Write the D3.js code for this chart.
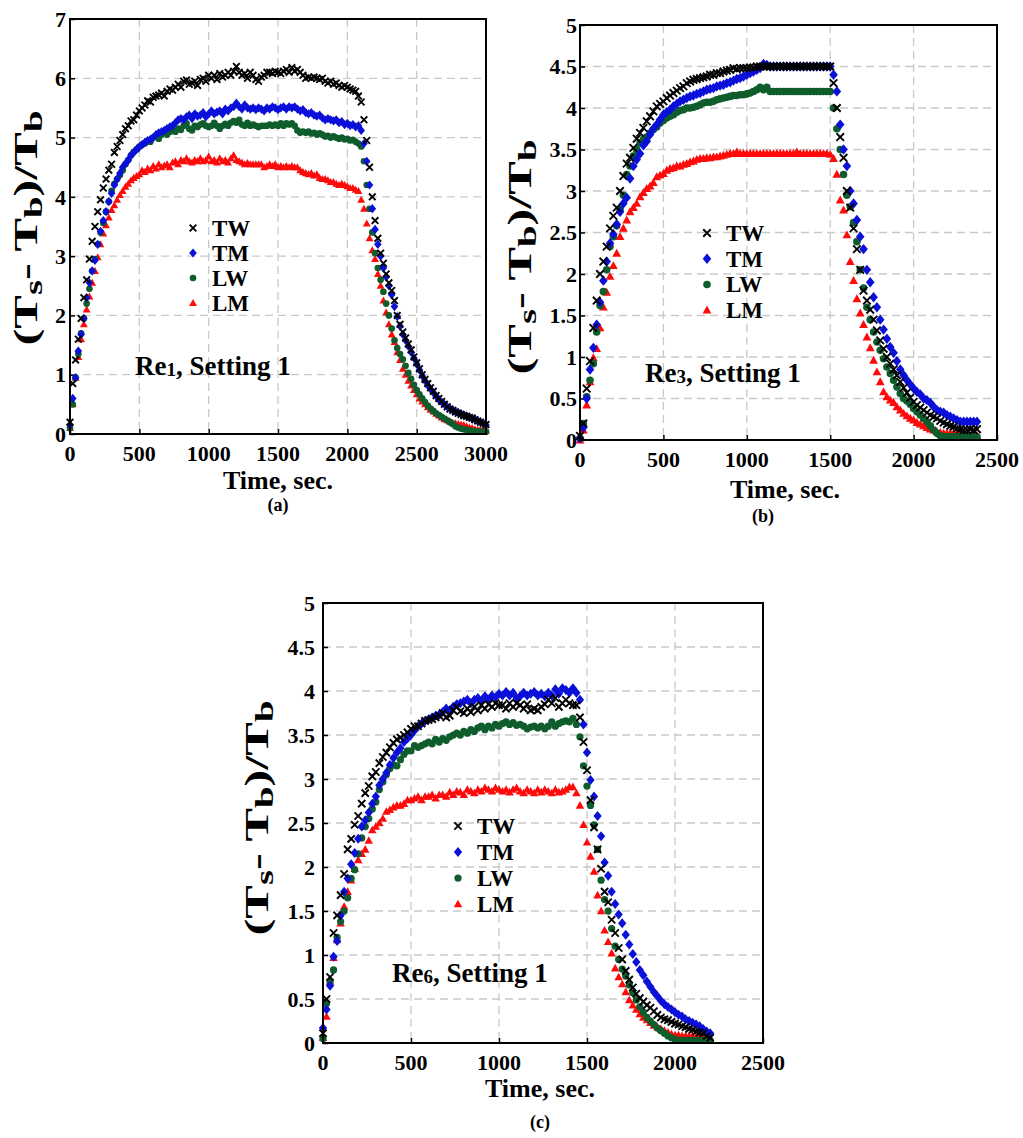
<!DOCTYPE html>
<html>
<head>
<meta charset="utf-8">
<script src="https://cdn.jsdelivr.net/npm/d3@7"></script>
<style>
  body { margin: 0; background: #fff; }
  svg text { font-family: "Liberation Serif", "Times New Roman", serif; font-weight: bold; fill: #000; }
</style>
</head>
<body>
<div id="fig"></div>
<script>
// sampling interval of the logged data, seconds
var step = 20;

// series names, drawn in this order (TW ends up on top)
var seriesNames = ["LM", "LW", "TM", "TW"];
var legendNames = ["TW", "TM", "LW", "LM"];

// x tick labels
var xTicksA = [0, 500, 1000, 1500, 2000, 2500, 3000];
var xTicksBC = [0, 500, 1000, 1500, 2000, 2500];
// y tick labels
var yTicksA = [0, 1, 2, 3, 4, 5, 6, 7];
var yTicksBC = [0, 0.5, 1, 1.5, 2, 2.5, 3, 3.5, 4, 4.5, 5];

// ---- panel (a): Re1, t = 0..3000 s ----
var twA = [0.2, 0.85, 1.25, 1.6, 1.95, 2.3, 2.6, 2.95, 3.25, 3.5,
  3.75, 3.95, 4.15, 4.3, 4.45, 4.55, 4.75, 4.85, 4.95, 5.05,
  5.15, 5.2, 5.28, 5.3, 5.38, 5.45, 5.5, 5.55, 5.62, 5.6,
  5.68, 5.7, 5.72, 5.75, 5.7, 5.78, 5.82, 5.8, 5.85, 5.9,
  5.85, 5.95, 5.97, 5.9, 5.92, 5.95, 5.88, 5.98, 6.0, 5.95,
  6.05, 6.0, 6.05, 5.98, 6.08, 6.02, 6.05, 6.1, 6.05, 6.12,
  6.2, 6.1, 6.05, 6.08, 6.0, 6.1, 6.05, 5.98, 5.95, 6.02,
  6.05, 6.1, 6.1, 6.08, 6.12, 6.1, 6.08, 6.12, 6.15, 6.1,
  6.18, 6.12, 6.15, 6.1, 6.05, 6.0, 6.02, 6.0, 6.02, 6.0,
  5.98, 6.0, 5.95, 5.92, 5.95, 5.9, 5.92, 5.88, 5.85, 5.88,
  5.85, 5.82, 5.8, 5.78, 5.7, 5.6, 5.3, 4.95, 4.5, 4.0,
  3.6, 3.3, 3.05, 2.88, 2.7, 2.55, 2.42, 2.25, 2.0, 1.85,
  1.72, 1.62, 1.52, 1.42, 1.3, 1.2, 1.1, 1.0, 0.92, 0.85,
  0.78, 0.72, 0.65, 0.6, 0.55, 0.5, 0.46, 0.42, 0.4, 0.37,
  0.35, 0.33, 0.31, 0.3, 0.28, 0.27, 0.24, 0.22, 0.2, 0.18,
  0.16];
var tmA = [0.15, 0.6, 0.95, 1.4, 1.68, 1.95, 2.3, 2.55, 2.75, 2.93,
  3.2, 3.42, 3.6, 3.75, 3.92, 4.06, 4.2, 4.3, 4.4, 4.5,
  4.56, 4.62, 4.7, 4.75, 4.8, 4.84, 4.88, 4.92, 4.95, 4.97,
  5.0, 5.05, 5.08, 5.1, 5.12, 5.15, 5.18, 5.2, 5.25, 5.3,
  5.32, 5.3, 5.35, 5.38, 5.32, 5.4, 5.36, 5.38, 5.42, 5.35,
  5.4, 5.45, 5.4, 5.43, 5.45, 5.4, 5.48, 5.45, 5.5, 5.52,
  5.58, 5.52, 5.48, 5.55, 5.5, 5.48, 5.5, 5.47, 5.5, 5.48,
  5.45, 5.5, 5.48, 5.52, 5.5, 5.47, 5.5, 5.52, 5.48, 5.52,
  5.5, 5.52, 5.48, 5.45, 5.47, 5.42, 5.4, 5.42, 5.38, 5.36,
  5.38, 5.33, 5.3, 5.32, 5.3, 5.28, 5.3, 5.25, 5.27, 5.22,
  5.24, 5.2, 5.22, 5.18, 5.2, 5.12, 4.9, 4.6, 4.2, 3.8,
  3.45, 3.2, 3.0, 2.8, 2.65, 2.5, 2.35, 2.15, 1.98, 1.82,
  1.68, 1.58, 1.48, 1.38, 1.28, 1.18, 1.08, 0.98, 0.9, 0.82,
  0.76, 0.7, 0.64, 0.58, 0.54, 0.5, 0.46, 0.43, 0.4, 0.38,
  0.36, 0.34, 0.32, 0.3, 0.28, 0.26, 0.25, 0.22, 0.2, 0.18,
  0.15];
var lwA = [0.1, 0.5, 0.95, 1.35, 1.7, 1.95, 2.2, 2.45, 2.75, 2.95,
  3.2, 3.4, 3.56, 3.75, 3.92, 4.1, 4.22, 4.3, 4.37, 4.45,
  4.55, 4.62, 4.7, 4.76, 4.8, 4.85, 4.88, 4.9, 4.95, 4.93,
  5.0, 5.02, 4.98, 5.05, 5.08, 5.05, 5.1, 5.12, 5.1, 5.15,
  5.13, 5.2, 5.24, 5.15, 5.12, 5.2, 5.18, 5.22, 5.24, 5.2,
  5.18, 5.2, 5.25, 5.2, 5.15, 5.2, 5.23, 5.2, 5.25, 5.28,
  5.25, 5.3, 5.22, 5.2, 5.25, 5.2, 5.22, 5.2, 5.18, 5.2,
  5.2, 5.2, 5.22, 5.2, 5.22, 5.2, 5.24, 5.2, 5.24, 5.22,
  5.24, 5.2, 5.12, 5.08, 5.1, 5.08, 5.1, 5.07, 5.08, 5.05,
  5.07, 5.05, 5.02, 5.03, 5.0, 5.02, 5.0, 4.98, 5.0, 4.97,
  4.98, 4.95, 4.96, 4.93, 4.9, 4.85, 4.6, 4.2, 3.8, 3.4,
  3.05, 2.8, 2.6, 2.4, 2.2, 2.0, 1.78, 1.58, 1.45, 1.35,
  1.26, 1.15, 1.03, 0.93, 0.83, 0.74, 0.67, 0.6, 0.54, 0.48,
  0.43, 0.39, 0.35, 0.32, 0.29, 0.26, 0.23, 0.2, 0.17, 0.13,
  0.11, 0.09, 0.08, 0.07, 0.06, 0.05, 0.05, 0.04, 0.04, 0.04,
  0.04];
var lmA = [0.1, 0.5, 0.95, 1.3, 1.6, 1.85, 2.1, 2.32, 2.55, 2.75,
  2.98, 3.2, 3.38, 3.52, 3.65, 3.78, 3.86, 3.95, 4.03, 4.1,
  4.17, 4.22, 4.28, 4.32, 4.35, 4.38, 4.45, 4.42, 4.48, 4.45,
  4.52, 4.48, 4.55, 4.5, 4.53, 4.55, 4.5, 4.58, 4.6, 4.55,
  4.62, 4.6, 4.65, 4.6, 4.58, 4.62, 4.6, 4.65, 4.6, 4.62,
  4.68, 4.6, 4.62, 4.58, 4.65, 4.6, 4.62, 4.58, 4.65, 4.7,
  4.62, 4.6, 4.58, 4.55, 4.57, 4.55, 4.55, 4.55, 4.55, 4.55,
  4.5, 4.52, 4.55, 4.52, 4.55, 4.5, 4.52, 4.5, 4.52, 4.5,
  4.52, 4.5, 4.5, 4.45, 4.42, 4.4, 4.38, 4.4, 4.36, 4.38,
  4.32, 4.3, 4.3, 4.28, 4.25, 4.25, 4.22, 4.2, 4.22, 4.2,
  4.18, 4.15, 4.15, 4.12, 4.1, 3.95, 3.8, 3.55, 3.3, 3.1,
  2.95, 2.7, 2.5, 2.25, 2.05, 1.85, 1.68, 1.55, 1.38, 1.25,
  1.1, 1.0, 0.9, 0.82, 0.74, 0.67, 0.6, 0.55, 0.5, 0.45,
  0.41, 0.38, 0.34, 0.31, 0.28, 0.25, 0.23, 0.21, 0.19, 0.18,
  0.17, 0.16, 0.15, 0.13, 0.11, 0.1, 0.08, 0.07, 0.07, 0.06,
  0.06];

// ---- panel (b): Re3, t = 0..2380 s ----
var twB = [0.05, 0.2, 0.62, 0.95, 1.35, 1.68, 2.0, 2.15, 2.33, 2.55,
  2.7, 2.8, 3.0, 3.18, 3.33, 3.4, 3.52, 3.63, 3.7, 3.76,
  3.84, 3.9, 3.96, 4.02, 4.05, 4.08, 4.12, 4.15, 4.18, 4.21,
  4.24, 4.26, 4.3, 4.32, 4.34, 4.35, 4.36, 4.37, 4.38, 4.4,
  4.4, 4.42, 4.42, 4.44, 4.45, 4.46, 4.48, 4.47, 4.48, 4.48,
  4.48, 4.49, 4.49, 4.5, 4.5, 4.5, 4.5, 4.5, 4.5, 4.5,
  4.5, 4.5, 4.5, 4.5, 4.5, 4.5, 4.5, 4.5, 4.5, 4.5,
  4.5, 4.5, 4.5, 4.5, 4.5, 4.5, 4.3, 4.0, 3.65, 3.4,
  3.0, 2.8, 2.55, 2.3, 2.05, 1.8, 1.68, 1.57, 1.45, 1.32,
  1.2, 1.1, 1.0, 0.92, 0.85, 0.78, 0.7, 0.63, 0.57, 0.51,
  0.46, 0.42, 0.39, 0.36, 0.33, 0.3, 0.28, 0.26, 0.23, 0.21,
  0.19, 0.17, 0.16, 0.14, 0.13, 0.12, 0.12, 0.13, 0.12, 0.13];
var tmB = [0.02, 0.15, 0.5, 0.85, 1.11, 1.39, 1.66, 1.92, 2.15, 2.37,
  2.48, 2.6, 2.75, 2.85, 2.92, 3.15, 3.3, 3.38, 3.45, 3.55,
  3.6, 3.68, 3.75, 3.8, 3.86, 3.92, 3.95, 3.98, 4.02, 4.05,
  4.08, 4.1, 4.12, 4.14, 4.15, 4.17, 4.18, 4.2, 4.22, 4.23,
  4.24, 4.26, 4.27, 4.28, 4.3, 4.31, 4.33, 4.35, 4.36, 4.38,
  4.4, 4.42, 4.44, 4.46, 4.48, 4.53, 4.52, 4.5, 4.5, 4.5,
  4.5, 4.5, 4.5, 4.5, 4.5, 4.5, 4.5, 4.5, 4.5, 4.5,
  4.5, 4.5, 4.5, 4.5, 4.5, 4.5, 4.4, 4.2, 3.8, 3.5,
  3.3, 3.0, 2.85, 2.65, 2.45, 2.3, 2.05, 1.9, 1.72, 1.6,
  1.45, 1.33, 1.22, 1.12, 1.05, 0.95, 0.85, 0.78, 0.72, 0.67,
  0.62, 0.58, 0.55, 0.5, 0.48, 0.45, 0.4, 0.36, 0.34, 0.33,
  0.3, 0.28, 0.26, 0.24, 0.22, 0.22, 0.22, 0.22, 0.22, 0.22];
var lwB = [0.02, 0.2, 0.52, 0.72, 0.92, 1.3, 1.62, 1.79, 2.05, 2.33,
  2.45, 2.58, 2.78, 2.95, 3.2, 3.3, 3.42, 3.5, 3.58, 3.62,
  3.65, 3.7, 3.74, 3.77, 3.82, 3.85, 3.88, 3.9, 3.92, 3.95,
  3.97, 3.98, 4.0, 4.0, 4.01, 4.02, 4.04, 4.06, 4.07, 4.07,
  4.08, 4.1, 4.11, 4.12, 4.13, 4.14, 4.15, 4.15, 4.16, 4.16,
  4.17, 4.18, 4.2, 4.22, 4.25, 4.22, 4.25, 4.2, 4.2, 4.2,
  4.2, 4.2, 4.2, 4.2, 4.2, 4.2, 4.2, 4.2, 4.2, 4.2,
  4.2, 4.2, 4.2, 4.2, 4.2, 4.2, 4.0, 3.75, 3.5, 3.2,
  2.95, 2.81, 2.62, 2.39, 2.05, 1.83, 1.6, 1.45, 1.3, 1.18,
  1.08, 0.98, 0.88, 0.8, 0.72, 0.64, 0.56, 0.5, 0.47, 0.43,
  0.38, 0.34, 0.3, 0.26, 0.22, 0.17, 0.12, 0.08, 0.05, 0.04,
  0.04, 0.04, 0.04, 0.04, 0.04, 0.04, 0.04, 0.04, 0.04, 0.04];
var lmB = [0.0, 0.12, 0.42, 0.7, 0.99, 1.1, 1.35, 1.6, 1.78, 1.97,
  2.1, 2.25, 2.45, 2.55, 2.65, 2.75, 2.8, 2.85, 2.93, 2.98,
  3.03, 3.06, 3.1, 3.17, 3.19, 3.21, 3.25, 3.27, 3.28, 3.3,
  3.3, 3.32, 3.33, 3.35, 3.36, 3.38, 3.39, 3.39, 3.4, 3.4,
  3.41, 3.41, 3.42, 3.43, 3.44, 3.45, 3.45, 3.47, 3.45, 3.45,
  3.45, 3.45, 3.45, 3.45, 3.45, 3.45, 3.45, 3.45, 3.45, 3.45,
  3.45, 3.45, 3.45, 3.45, 3.45, 3.47, 3.45, 3.45, 3.45, 3.45,
  3.45, 3.45, 3.45, 3.45, 3.45, 3.44, 3.39, 3.2, 2.89, 2.77,
  2.47, 2.15, 1.92, 1.7, 1.53, 1.39, 1.24, 1.11, 0.96, 0.82,
  0.7, 0.58, 0.52, 0.48, 0.45, 0.4, 0.36, 0.32, 0.29, 0.26,
  0.24, 0.21, 0.19, 0.17, 0.15, 0.13, 0.12, 0.1, 0.09, 0.08,
  0.08, 0.08, 0.08, 0.08, 0.06, 0.05, 0.05, 0.05, 0.05, 0.05];

// ---- panel (c): Re6, t = 0..2200 s ----
var twC = [0.11, 0.5, 0.75, 1.25, 1.45, 1.68, 1.92, 2.2, 2.32, 2.48,
  2.58, 2.72, 2.84, 2.92, 3.03, 3.08, 3.18, 3.25, 3.3, 3.36,
  3.41, 3.45, 3.47, 3.5, 3.53, 3.57, 3.6, 3.6, 3.63, 3.66,
  3.67, 3.68, 3.7, 3.72, 3.75, 3.7, 3.72, 3.78, 3.82, 3.77,
  3.75, 3.8, 3.76, 3.82, 3.78, 3.84, 3.8, 3.85, 3.82, 3.86,
  3.84, 3.84, 3.8, 3.86, 3.82, 3.86, 3.84, 3.8, 3.85, 3.78,
  3.8, 3.78, 3.82, 3.85, 3.9, 3.86, 3.92, 3.82, 3.86, 3.9,
  3.86, 3.84, 3.84, 3.7, 3.42, 3.1, 2.76, 2.45, 2.2, 1.98,
  1.72, 1.6, 1.4, 1.25, 1.08, 0.95, 0.82, 0.72, 0.63, 0.56,
  0.51, 0.47, 0.43, 0.4, 0.36, 0.32, 0.29, 0.27, 0.26, 0.24,
  0.22, 0.21, 0.19, 0.18, 0.16, 0.15, 0.13, 0.12, 0.11, 0.08,
  0.06];
var tmC = [0.17, 0.38, 0.65, 0.98, 1.16, 1.45, 1.72, 1.87, 2.03, 2.16,
  2.32, 2.46, 2.53, 2.62, 2.72, 2.8, 2.93, 3.0, 3.07, 3.16,
  3.24, 3.3, 3.35, 3.42, 3.46, 3.5, 3.55, 3.6, 3.63, 3.66,
  3.68, 3.7, 3.72, 3.73, 3.76, 3.8, 3.78, 3.82, 3.85, 3.86,
  3.88, 3.9, 3.86, 3.9, 3.92, 3.88, 3.94, 3.9, 3.95, 3.93,
  3.97, 3.95, 3.99, 3.95, 3.98, 3.92, 3.94, 3.98, 3.95, 3.97,
  3.99, 3.95, 3.97, 3.94, 3.98, 3.95, 4.02, 3.97, 4.03, 4.01,
  3.98, 4.03, 3.98, 3.9, 3.62, 3.3, 2.99, 2.8, 2.58, 2.35,
  2.05, 1.9, 1.72, 1.58, 1.46, 1.36, 1.23, 1.12, 1.01, 0.92,
  0.83, 0.77, 0.7, 0.64, 0.58, 0.53, 0.48, 0.44, 0.41, 0.38,
  0.35, 0.32, 0.3, 0.27, 0.25, 0.23, 0.21, 0.19, 0.16, 0.13,
  0.11];
var lwC = [0.05, 0.45, 0.7, 0.83, 1.2, 1.38, 1.5, 1.65, 1.87, 1.97,
  2.15, 2.33, 2.46, 2.55, 2.66, 2.74, 2.88, 2.97, 3.05, 3.12,
  3.16, 3.15, 3.22, 3.28, 3.32, 3.32, 3.38, 3.36, 3.38, 3.4,
  3.42, 3.4, 3.45, 3.42, 3.46, 3.44, 3.48, 3.5, 3.52, 3.5,
  3.54, 3.52, 3.56, 3.54, 3.58, 3.6, 3.56, 3.6, 3.58, 3.62,
  3.6, 3.63, 3.65, 3.62, 3.64, 3.61, 3.62, 3.6, 3.57, 3.59,
  3.6, 3.58, 3.6, 3.57, 3.6, 3.65, 3.6, 3.63, 3.65, 3.66,
  3.65, 3.69, 3.62, 3.48, 3.15, 2.92, 2.7, 2.48, 2.2, 1.85,
  1.63, 1.5, 1.3, 1.1, 0.95, 0.84, 0.76, 0.66, 0.57, 0.49,
  0.41, 0.35, 0.29, 0.25, 0.21, 0.17, 0.14, 0.11, 0.08, 0.06,
  0.04, 0.03, 0.03, 0.03, 0.03, 0.03, 0.03, 0.03, 0.03, 0.03,
  0.03];
var lmC = [0.06, 0.3, 0.7, 0.97, 1.17, 1.36, 1.55, 1.72, 1.85, 1.98,
  2.08, 2.15, 2.2, 2.3, 2.42, 2.46, 2.5, 2.55, 2.63, 2.65,
  2.68, 2.7, 2.7, 2.72, 2.76, 2.76, 2.78, 2.8, 2.76, 2.8,
  2.8, 2.82, 2.78, 2.82, 2.82, 2.8, 2.85, 2.82, 2.86, 2.85,
  2.82, 2.88, 2.86, 2.84, 2.88, 2.86, 2.9, 2.88, 2.86, 2.9,
  2.88, 2.86, 2.88, 2.85, 2.88, 2.9, 2.86, 2.84, 2.88, 2.86,
  2.84, 2.88, 2.85, 2.88, 2.86, 2.84, 2.88, 2.85, 2.86, 2.88,
  2.91, 2.91, 2.84, 2.7, 2.48, 2.28, 2.12, 1.95, 1.68, 1.5,
  1.28, 1.15, 1.02, 0.85, 0.75, 0.67, 0.58, 0.49, 0.43, 0.38,
  0.33, 0.29, 0.26, 0.23, 0.2, 0.18, 0.16, 0.14, 0.12, 0.1,
  0.09, 0.09, 0.08, 0.08, 0.08, 0.08, 0.07, 0.07, 0.06, 0.05,
  0.04];

// marker colours
var colors = { TW: "#000000", TM: "#0a10d8", LW: "#0f5c2c", LM: "#ff0a0a" };

// panel layout (pixel boxes + label spots)
var panels = [
  { left: 70, top: 19, width: 416, height: 415, xMax: 3000, yMax: 7,
    xTicks: xTicksA, yTicks: yTicksA,
    data: { TW: twA, TM: tmA, LW: lwA, LM: lmA },
    legend: [193, 228, 25], note: [135, 375, "1"], ylab: [37, 228], ygap: 4,
    xtitle: [278, 489], tag: ["(a)", 278, 511], ms: 1.15 },
  { left: 580, top: 25, width: 417, height: 415, xMax: 2500, yMax: 5,
    xTicks: xTicksBC, yTicks: yTicksBC,
    data: { TW: twB, TM: tmB, LW: lwB, LM: lmB },
    legend: [707, 233, 25.7], note: [645, 382, "3"], ylab: [531, 257], ygap: 3,
    xtitle: [785, 498], tag: ["(b)", 763, 522], ms: 1.3 },
  { left: 323, top: 603, width: 440, height: 440, xMax: 2500, yMax: 5,
    xTicks: xTicksBC, yTicks: yTicksBC,
    data: { TW: twC, TM: tmC, LW: lwC, LM: lmC },
    legend: [458, 826, 26], note: [392, 982, "6"], ylab: [268, 818], ygap: 8,
    xtitle: [540, 1097], tag: ["(c)", 540, 1128], ms: 1.25 }
];

var svg = d3.select("#fig").append("svg")
  .attr("width", 1023)
  .attr("height", 1138);

svg.append("rect").attr("width", 1023).attr("height", 1138).attr("fill", "#fff");

// marker shape for each series, k = scale
function markerPath(name, k) {
  var r;
  if (name == "TW") {
    r = 2.9 * k;
    return "M" + (-r) + "," + (-r) + "L" + r + "," + r + "M" + (-r) + "," + r + "L" + r + "," + (-r);
  }
  if (name == "TM") {
    return "M0," + (-4 * k) + "L" + (3.3 * k) + ",0L0," + (4 * k) + "L" + (-3.3 * k) + ",0Z";
  }
  if (name == "LW") {
    r = 2.9 * k;
    return d3.symbol().type(d3.symbolCircle).size(Math.PI * r * r)();
  }
  return "M0," + (-3.5 * k) + "L" + (3.4 * k) + "," + (2.6 * k) + "L" + (-3.4 * k) + "," + (2.6 * k) + "Z";
}

function styleMarker(sel, name) {
  if (name == "TW") {
    sel.attr("fill", "none").attr("stroke", colors.TW).attr("stroke-width", 1.9);
  } else {
    sel.attr("fill", colors[name]).attr("stroke", "none");
  }
}

function drawPanel(p) {
  var g = svg.append("g");

  var xScale = d3.scaleLinear().domain([0, p.xMax]).range([p.left, p.left + p.width]);
  var yScale = d3.scaleLinear().domain([0, p.yMax]).range([p.top + p.height, p.top]);

  //dashed grid
  g.selectAll(".gx").data(p.xTicks.filter(function (d) { return d > 0 && d < p.xMax; }))
    .enter().append("line")
    .attr("x1", function (d) { return xScale(d); })
    .attr("x2", function (d) { return xScale(d); })
    .attr("y1", p.top).attr("y2", p.top + p.height)
    .attr("stroke", "#c9c9c9").attr("stroke-width", 1.3).attr("stroke-dasharray", "8,5");
  g.selectAll(".gy").data(p.yTicks.filter(function (d) { return d > 0 && d < p.yMax; }))
    .enter().append("line")
    .attr("x1", p.left).attr("x2", p.left + p.width)
    .attr("y1", function (d) { return yScale(d); })
    .attr("y2", function (d) { return yScale(d); })
    .attr("stroke", "#c9c9c9").attr("stroke-width", 1.3).attr("stroke-dasharray", "8,5");

  //axes with inward ticks, labels drawn separately
  var xAxis = d3.axisBottom(xScale).tickValues(p.xTicks).tickSizeInner(-5).tickSizeOuter(0).tickFormat("");
  var yAxis = d3.axisLeft(yScale).tickValues(p.yTicks).tickSizeInner(-5).tickSizeOuter(0).tickFormat("");
  g.append("g").attr("transform", "translate(0," + (p.top + p.height) + ")").call(xAxis)
    .call(function (a) { a.select(".domain").remove(); a.selectAll("line").attr("stroke", "#000").attr("stroke-width", 1.5); });
  g.append("g").attr("transform", "translate(" + p.left + ",0)").call(yAxis)
    .call(function (a) { a.select(".domain").remove(); a.selectAll("line").attr("stroke", "#000").attr("stroke-width", 1.5); });

  g.selectAll(".xl").data(p.xTicks).enter().append("text")
    .attr("x", function (d) { return xScale(d); })
    .attr("y", p.top + p.height + 27)
    .attr("text-anchor", "middle")
    .attr("font-size", "22px")
    .text(function (d) { return String(d); });
  g.selectAll(".yl").data(p.yTicks).enter().append("text")
    .attr("x", p.left - p.ygap)
    .attr("y", function (d) { return yScale(d); })
    .attr("dy", "0.35em")
    .attr("text-anchor", "end")
    .attr("font-size", "22px")
    .text(function (d) { return String(d); });

  //markers
  seriesNames.forEach(function (name) {
    var vals = p.data[name];
    var path = markerPath(name, p.ms);
    g.append("g").selectAll("path")
      .data(vals)
      .enter().append("path")
      .attr("transform", function (d, i) { return "translate(" + xScale(i * step) + "," + yScale(d) + ")"; })
      .attr("d", path)
      .call(styleMarker, name);
  });

  //frame
  g.append("rect")
    .attr("x", p.left).attr("y", p.top)
    .attr("width", p.width).attr("height", p.height)
    .attr("fill", "none").attr("stroke", "#000").attr("stroke-width", 2);

  //legend
  legendNames.forEach(function (name, i) {
    var ly = p.legend[1] + i * p.legend[2];
    g.append("path")
      .attr("transform", "translate(" + p.legend[0] + "," + ly + ")")
      .attr("d", markerPath(name, p.ms))
      .call(styleMarker, name);
    g.append("text")
      .attr("x", p.legend[0] + 19)
      .attr("y", ly)
      .attr("dy", "0.35em")
      .attr("font-size", "23px")
      .text(name);
  });

  //Re note
  var note = g.append("text")
    .attr("x", p.note[0]).attr("y", p.note[1])
    .attr("font-size", "27px");
  note.append("tspan").text("Re");
  note.append("tspan").attr("font-size", "19px").attr("dy", 1).text(p.note[2]);
  note.append("tspan").attr("dy", -1).text(", Setting 1");

  //x title + tag
  g.append("text")
    .attr("x", p.xtitle[0]).attr("y", p.xtitle[1])
    .attr("text-anchor", "middle")
    .attr("font-size", "26px")
    .text("Time, sec.");
  g.append("text")
    .attr("x", p.tag[1]).attr("y", p.tag[2])
    .attr("text-anchor", "middle")
    .attr("font-size", "18px")
    .text(p.tag[0]);

  //y title, stretched along its length like the original
  var yt = g.append("text")
    .attr("text-anchor", "middle")
    .attr("font-size", "34px");
  yt.append("tspan").text("(T");
  yt.append("tspan").attr("font-size", "26px").attr("dy", 5).text("s");
  yt.append("tspan").attr("dy", -5).text("- T");
  yt.append("tspan").attr("font-size", "26px").attr("dy", 5).text("b");
  yt.append("tspan").attr("dy", -5).text(")/T");
  yt.append("tspan").attr("font-size", "26px").attr("dy", 5).text("b");
  var len = yt.node().getBBox().width;
  var sx = 235 / len;
  yt.attr("transform", "translate(" + p.ylab[0] + "," + p.ylab[1] + ") rotate(-90) scale(" + sx + ",1)");
}

panels.forEach(drawPanel);
</script>
</body>
</html>
